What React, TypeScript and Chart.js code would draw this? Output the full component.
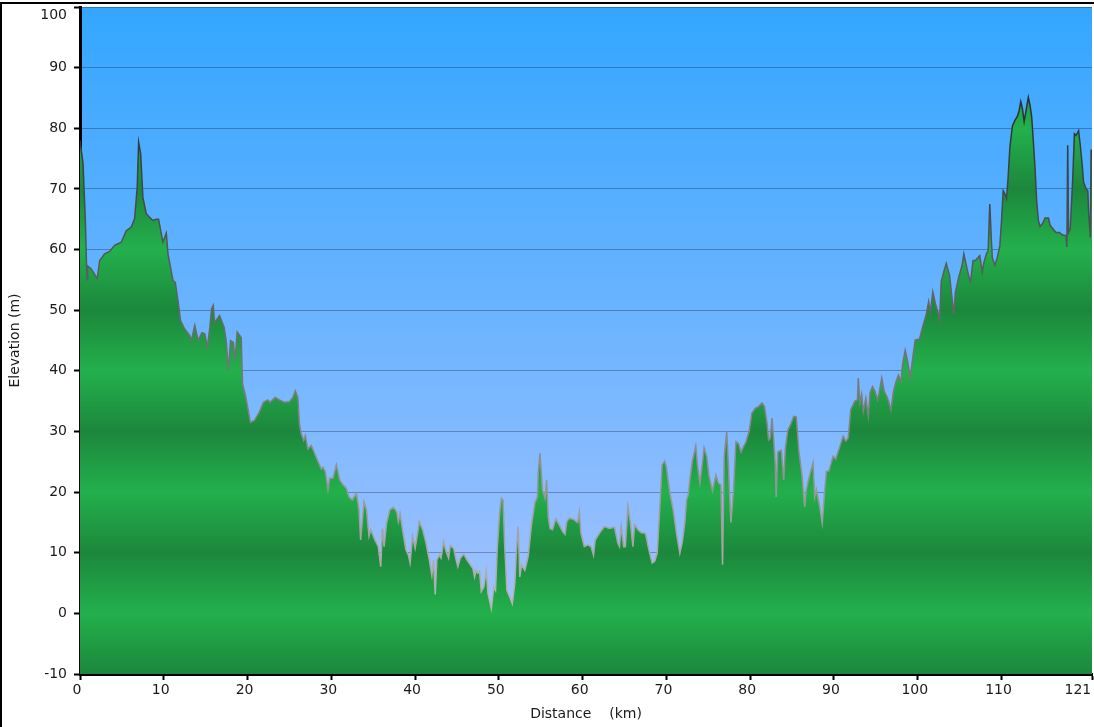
import { useEffect, useRef } from 'react';
import { Chart, registerables } from 'chart.js';

Chart.register(...registerables);

// elevation profile (km / m)
const distanceKm = [
  0, 0.36, 0.64, 0.78, 0.84, 0.9, 1.35, 2.06, 2.35, 2.94, 3.54, 4.13, 4.93, 5.52, 6.12, 6.52, 6.83, 7.0, 7.24, 7.51,
  7.91, 8.31, 8.71, 9.1, 9.38, 9.9, 10.3, 10.5, 11.1, 11.37, 11.7, 12.0, 12.5, 13.1, 13.3, 13.7, 14.1, 14.55, 14.9, 15.2,
  15.5, 15.7, 15.9, 16.06, 16.4, 16.66, 17.2, 17.45, 17.7, 17.97, 18.3, 18.5, 18.76, 19.24, 19.4, 19.8, 20.35, 20.8, 21.4, 21.9,
  22.4, 22.7, 23.3, 23.8, 24.4, 25.0, 25.4, 25.7, 26.0, 26.2, 26.4, 26.7, 26.9, 27.2, 27.6, 28.2, 28.8, 29.0, 29.3, 29.6,
  29.8, 30.2, 30.6, 31.0, 31.4, 31.8, 32.1, 32.5, 33.0, 33.3, 33.5, 33.9, 34.2, 34.5, 34.7, 35.2, 35.6, 35.9, 36.1, 36.3,
  36.6, 37.0, 37.4, 37.8, 38.0, 38.2, 38.5, 38.9, 39.2, 39.4, 39.7, 40.0, 40.3, 40.5, 40.9, 41.3, 41.7, 42.0, 42.2, 42.4,
  42.6, 42.9, 43.1, 43.4, 43.7, 44.0, 44.2, 44.6, 44.9, 45.1, 45.4, 45.8, 46.2, 46.6, 46.9, 47.1, 47.3, 47.5, 47.7, 47.9,
  48.2, 48.5, 48.7, 49.1, 49.4, 49.6, 49.8, 50.1, 50.3, 50.5, 50.7, 50.96, 51.3, 51.6, 51.9, 52.1, 52.3, 52.5, 52.7, 53.1,
  53.5, 53.9, 54.3, 54.6, 54.7, 54.9, 55.2, 55.5, 55.7, 55.9, 56.1, 56.4, 56.8, 57.2, 57.6, 57.9, 58.1, 58.4, 58.9, 59.3,
  59.4, 59.6, 59.8, 60.2, 60.6, 61.0, 61.3, 61.5, 62.0, 62.6, 63.2, 63.8, 64.2, 64.4, 64.6, 64.9, 65.1, 65.4, 65.7, 66.0,
  66.2, 66.6, 67.0, 67.5, 67.9, 68.3, 68.6, 68.9, 69.2, 69.5, 69.8, 70.0, 70.4, 70.8, 71.2, 71.6, 71.9, 72.2, 72.4, 72.6,
  72.8, 73.1, 73.5, 73.7, 74.0, 74.3, 74.5, 74.8, 75.1, 75.5, 75.9, 76.2, 76.5, 76.7, 76.9, 77.2, 77.4, 77.7, 78.0, 78.3,
  78.6, 78.9, 79.2, 79.5, 79.9, 80.2, 80.6, 81.0, 81.4, 81.7, 82.0, 82.2, 82.4, 82.6, 82.8, 83.0, 83.1, 83.3, 83.7, 84.0,
  84.2, 84.5, 84.9, 85.2, 85.5, 85.8, 86.2, 86.5, 86.7, 87.1, 87.5, 87.7, 87.9, 88.3, 88.6, 88.9, 89.1, 89.4, 89.9, 90.2,
  90.7, 91.1, 91.4, 91.7, 92.0, 92.5, 92.8, 92.9, 93.1, 93.3, 93.5, 93.8, 94.1, 94.3, 94.6, 94.9, 95.2, 95.4, 95.7, 96.0,
  96.4, 96.8, 97.1, 97.4, 97.7, 98.0, 98.2, 98.5, 98.8, 99.1, 99.4, 99.7, 100.2, 100.6, 101.0, 101.3, 101.5, 101.8, 102.1, 102.4,
  102.6, 102.8, 103.1, 103.4, 103.8, 104.1, 104.3, 104.5, 104.9, 105.3, 105.5, 105.8, 106.1, 106.3, 106.6, 106.9, 107.2, 107.4, 107.7, 107.9,
  108.2, 108.4, 108.6, 108.8, 108.9, 109.2, 109.5, 109.8, 110.0, 110.2, 110.4, 110.6, 110.8, 111.0, 111.3, 111.6, 111.9, 112.1, 112.3, 112.5,
  112.7, 112.9, 113.2, 113.4, 113.6, 113.8, 114.0, 114.2, 114.4, 114.6, 114.9, 115.2, 115.6, 115.8, 116.2, 116.5, 116.9, 117.3, 117.7, 117.8,
  117.9, 118.0, 118.2, 118.5, 118.7, 118.9, 119.2, 119.4, 119.6, 119.8, 120.1, 120.3, 120.4, 120.6, 120.7, 120.8,
];
const elevationM = [
  78, 74.2, 64.8, 57.5, 55, 57.3, 56.8, 55.2, 58.2, 59.3, 59.7, 60.7, 61.2, 63.1, 63.7, 65.1, 70.3, 77.7, 75.8, 68.6,
  65.9, 65.3, 64.8, 65.0, 65.0, 61.2, 62.7, 59.3, 54.9, 54.6, 51.6, 48.3, 46.9, 45.8, 45.0, 47.5, 45.0, 46.3, 46.1, 43.9,
  47.2, 50.2, 50.8, 48.0, 48.6, 49.1, 47.2, 45.0, 40.0, 45.0, 44.7, 41.7, 46.4, 45.5, 37.9, 35.6, 31.5, 31.8, 33.2, 34.8,
  35.2, 34.8, 35.6, 35.2, 34.8, 34.9, 35.6, 36.7, 35.6, 31.2, 29.6, 28.5, 29.3, 27.1, 27.7, 25.7, 23.8, 24.1, 23.3, 20.4,
  22.3, 22.3, 24.5, 22.0, 21.2, 20.6, 19.2, 18.7, 19.8, 17.1, 12.1, 18.4, 17.1, 12.7, 13.8, 12.1, 11.0, 7.7, 14.0, 11.0,
  14.9, 17.1, 17.5, 16.8, 15.1, 16.5, 13.8, 10.5, 9.6, 8.3, 12.7, 10.7, 13.2, 15.1, 13.8, 11.6, 8.8, 6.3, 8.8, 3.1,
  8.8, 9.6, 9.1, 11.8, 10.2, 9.1, 11.2, 10.7, 8.8, 7.7, 9.1, 9.8, 8.8, 8.0, 7.4, 6.0, 7.1, 6.6, 6.9, 3.6,
  4.4, 7.1, 3.3, 0.8, 4.4, 3.8, 10.4, 16.8, 19.0, 18.7, 11.0, 3.8, 2.7, 1.6, 4.9, 10.4, 14.3, 6.0, 8.0, 7.1,
  9.4, 14.6, 18.2, 19.2, 23.1, 26.4, 20.4, 19.0, 22.0, 15.9, 14.0, 13.8, 15.6, 14.6, 13.5, 13.0, 15.1, 15.7, 15.5, 15.1,
  15.0, 16.8, 13.2, 11.0, 11.3, 11.0, 9.6, 12.1, 13.2, 14.3, 14.0, 14.2, 11.6, 11.0, 14.3, 11.0, 11.0, 17.6, 14.9, 11.0,
  14.6, 13.8, 13.3, 13.2, 10.5, 8.3, 8.6, 9.9, 17.1, 24.5, 25.1, 24.0, 19.9, 17.1, 13.2, 9.9, 11.8, 14.9, 18.7, 19.5,
  22.0, 25.1, 27.6, 24.5, 21.5, 24.8, 27.3, 25.9, 22.6, 20.2, 22.8, 21.5, 21.2, 8.0, 25.9, 30.0, 24.2, 15.0, 20.2, 28.3,
  28.0, 26.6, 27.5, 28.3, 30.2, 33.0, 33.8, 34.1, 34.7, 34.1, 31.4, 28.6, 28.9, 32.2, 28.6, 24.2, 19.2, 26.6, 26.9, 22.0,
  27.2, 30.2, 31.4, 32.5, 32.4, 26.9, 22.6, 17.6, 20.4, 22.8, 24.8, 19.2, 20.4, 17.6, 14.9, 20.4, 23.4, 23.5, 25.9, 25.4,
  27.5, 29.2, 28.4, 28.9, 33.6, 35.0, 35.2, 38.8, 34.7, 36.1, 33.3, 35.5, 32.5, 36.4, 37.4, 36.6, 35.2, 36.4, 38.8, 36.6,
  35.5, 33.6, 36.6, 38.2, 39.3, 38.2, 41.2, 43.4, 41.5, 38.8, 42.1, 45.1, 45.2, 47.3, 49.2, 51.4, 49.7, 53.0, 51.1, 49.7,
  48.4, 54.7, 56.3, 57.7, 55.7, 51.9, 49.4, 53.0, 55.5, 57.4, 59.3, 57.4, 55.5, 54.7, 58.2, 58.2, 58.7, 59.0, 56.3, 57.9,
  59.3, 59.8, 67.5, 61.2, 58.7, 57.4, 58.7, 60.6, 64.8, 69.7, 69.2, 68.4, 72.2, 76.9, 80.4, 81.3, 82.0, 82.9, 84.4, 83.2,
  81.1, 82.7, 85.1, 83.8, 81.9, 77.8, 73.4, 67.9, 64.8, 63.8, 64.3, 65.2, 65.2, 64.0, 63.3, 62.8, 62.8, 62.4, 62.3, 60.4,
  77.2, 62.8, 63.4, 71.7, 79.1, 78.8, 79.6, 77.2, 74.4, 71.1, 70.0, 69.7, 66.1, 62.0, 76.5, 75.0,
];
const xTicks = [0, 10, 20, 30, 40, 50, 60, 70, 80, 90, 100, 110, 120.8];
const yMin = -10;
const yMax = 100;
const yStep = 10;

const FONT = 'DejaVu Sans, Verdana, sans-serif';
const TEXT = '#1a1a1a';

// blue sky behind the plot, plus the thin frame round the picture
const plotBackground = {
  id: 'plotBackground',
  beforeDraw(chart) {
    const { ctx, chartArea: a } = chart;
    if (!a) return;
    const g = ctx.createLinearGradient(0, a.top, 0, a.bottom);
    g.addColorStop(0, '#33a6ff');
    g.addColorStop(1, '#adc4ff');
    ctx.save();
    ctx.fillStyle = g;
    ctx.fillRect(a.left, a.top, a.right - a.left, a.bottom - a.top);
    ctx.fillStyle = '#000';
    ctx.fillRect(0, 2, chart.width, 2);
    ctx.fillRect(0, 2, 2, chart.height);
    ctx.restore();
  },
};

// green fill banded every 10 m: dark on odd tens, bright on even tens
const greenFill = (c) => {
  const { chart } = c;
  const y = chart.scales.y;
  if (!chart.chartArea || !y) return '#22ae4a';
  const g = chart.ctx.createLinearGradient(0, y.getPixelForValue(yMax), 0, y.getPixelForValue(yMin));
  for (let v = yMin; v <= yMax; v += yStep) {
    const dark = ((v - yMin) / yStep) % 2 === 0;
    g.addColorStop((yMax - v) / (yMax - yMin), dark ? '#1c873c' : '#23b04c');
  }
  return g;
};

// outline goes from near black up high to light grey at sea level
const outline = (c) => {
  const { chart } = c;
  const y = chart.scales.y;
  if (!chart.chartArea || !y) return '#555';
  const g = chart.ctx.createLinearGradient(0, y.getPixelForValue(yMax), 0, y.getPixelForValue(yMin));
  g.addColorStop(0, '#0e1616');
  g.addColorStop((yMax - 0) / (yMax - yMin), '#b8b8b8');
  g.addColorStop(1, '#c4c4c4');
  return g;
};

export default function App() {
  const chartRef = useRef(null);

  useEffect(() => {
    document.body.style.margin = '0';
    const points = distanceKm.map((x, i) => ({ x, y: elevationM[i] }));

    const chart = new Chart(chartRef.current, {
      type: 'line',
      data: {
        datasets: [{
          data: points,
          fill: 'start',
          backgroundColor: greenFill,
          borderColor: outline,
          borderWidth: 1.5,
          pointRadius: 0,
          tension: 0,
        }],
      },
      options: {
        animation: false,
        responsive: true,
        maintainAspectRatio: false,
        layout: { padding: { top: 7, right: 2, bottom: 0, left: 0 } },
        plugins: {
          legend: { display: false },
          tooltip: { enabled: false },
        },
        scales: {
          x: {
            type: 'linear',
            min: 0,
            max: 120.8,
            z: 1,
            afterBuildTicks: (s) => { s.ticks = xTicks.map((value) => ({ value })); },
            afterFit: (s) => { s.height = 53; s.paddingLeft = 0; s.paddingRight = 0; },
            grid: { drawOnChartArea: false, tickLength: 6, tickWidth: 2, tickColor: '#000' },
            border: { display: true, color: '#000', width: 3 },
            ticks: {
              autoSkip: false,
              maxRotation: 0,
              padding: 2,
              labelOffset: -3,
              color: TEXT,
              font: { family: FONT, size: 14 },
              callback: (v, i, ticks) => (i === ticks.length - 1 ? Math.round(v) + '     ' : String(v)),
            },
            title: {
              display: true,
              text: 'Distance    (km)',
              color: TEXT,
              font: { family: FONT, size: 14 },
              padding: { top: 0, bottom: 4 },
            },
          },
          y: {
            min: yMin,
            max: yMax,
            z: 1,
            afterFit: (s) => { s.width = 80; s.paddingTop = 0; s.paddingBottom = 0; },
            grid: { color: 'rgba(0,0,0,0.28)', lineWidth: 1, tickLength: 6, tickWidth: 2, tickColor: '#000' },
            border: { display: true, color: '#000', width: 3 },
            ticks: {
              stepSize: yStep,
              padding: 7,
              color: TEXT,
              font: { family: FONT, size: 14 },
              callback: (v) => (v === yMax ? ['', String(v)] : String(v)),
            },
            title: {
              display: true,
              text: 'Elevation (m)',
              color: TEXT,
              font: { family: FONT, size: 14 },
              padding: { top: 7, bottom: 0 },
            },
          },
        },
      },
      plugins: [plotBackground],
    });

    return () => {
      chart.destroy();
    };
  }, []);

  return (
    <div style={{ position: 'relative', width: 1094, height: 727 }}>
      <canvas ref={chartRef} />
    </div>
  );
}
